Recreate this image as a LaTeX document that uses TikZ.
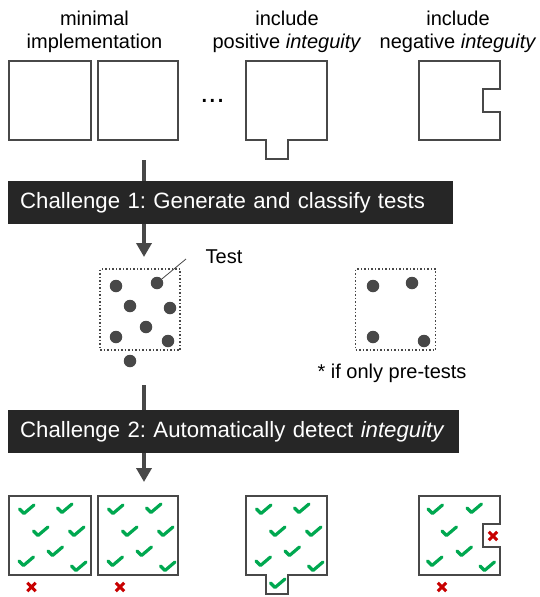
\documentclass[tikz,border=0pt]{standalone}
\usepackage{fontspec}
\setmainfont{Liberation Sans}
\usetikzlibrary{arrows.meta,positioning}
\definecolor{boxgray}{RGB}{72,72,72}
\definecolor{bardark}{RGB}{38,38,38}
\definecolor{passgreen}{RGB}{0,168,80}
\definecolor{failred}{RGB}{200,0,0}
\frenchspacing

\tikzset{
  impl/.style={draw=boxgray, line width=2.6pt, line join=miter},
  lbl/.style={font=\fontsize{20}{23.5}\selectfont, align=center, inner sep=0pt},
  challenge/.style={fill=bardark, text=white, anchor=west, font=\fontsize{22.2}{26}\selectfont,
    align=left, inner xsep=12pt, minimum height=43pt},
  testdot/.style={circle, fill=boxgray, minimum size=12.5pt, inner sep=0pt},
  pool/.style={draw=boxgray, dotted, line width=1.5pt, minimum width=80pt, minimum height=81pt},
  flow/.style={draw=boxgray, line width=4pt, -{Triangle[width=15pt,length=14pt]}},
  pass/.pic={\draw[passgreen, line width=3.2pt, line cap=round, line join=round] (-7,-1) -- (-2.5,3.5) -- (7.5,-5);},
  fail/.pic={\draw[failred, line width=3pt] (-4.2,-4.2) -- (4.2,4.2) (-4.2,4.2) -- (4.2,-4.2);},
}

\begin{document}
\begin{tikzpicture}[x=1pt, y=-1pt]
    \useasboundingbox (0,0) rectangle (540,597);

    % implementations, top row and bottom row
    \foreach \dy in {0,435} {
      \begin{scope}[shift={(0,\dy)}]
        \draw[impl] (9,61) rectangle (91,140);
        \draw[impl] (98,61) rectangle (178,140);
        \draw[impl] (246,61) -- (327,61) -- (327,140) -- (288,140) -- (288,159)
          -- (266,159) -- (266,140) -- (246,140) -- cycle;
        \draw[impl] (419,61) -- (500,61) -- (500,89) -- (483,89) -- (483,112)
          -- (500,112) -- (500,140) -- (419,140) -- cycle;
      \end{scope}
    }
    \node[lbl] (minlbl) at (94.5,32) {minimal\\implementation};
    \node[lbl] (poslbl) at (287,32) {include\\positive \textit{integuity}};
    \node[lbl] (neglbl) at (458,32) {include\\negative \textit{integuity}};
    \node[lbl, font=\fontsize{29}{29}\selectfont, anchor=base] (more) at (212.5,102.5) {...};

    % challenge 1
    \coordinate (from1) at (144,160);
    \coordinate (to1) at (144,257);
    \draw[flow] (from1) -- (to1);
    \node[challenge, text width=421pt] (ch1) at (8,202.5) {\mbox{Challenge 1: Generate and classify tests}};

    % generated tests
    \node[pool] (pool) at (140,309.5) {};
    \node[testdot] (t1) at (116,286) {};
    \node[testdot] (t2) at (157,283) {};
    \node[testdot] (t3) at (130,306) {};
    \node[testdot] (t4) at (170,308) {};
    \node[testdot] (t5) at (146,327) {};
    \node[testdot] (t6) at (116,337) {};
    \node[testdot] (t7) at (168,341) {};
    \node[testdot] (t8) at (130,361) {};
    \coordinate (lead) at (186,259);
    \draw[boxgray, line width=0.8pt] (t2) -- (lead);
    \node[lbl, anchor=base] (test) at (224,263) {Test};

    \node[pool] (prepool) at (395.5,309.5) {};
    \node[testdot] (p1) at (373,286) {};
    \node[testdot] (p2) at (412,283) {};
    \node[testdot] (p3) at (373,337) {};
    \node[testdot] (p4) at (424,341) {};
    \node[lbl, anchor=base] (prenote) at (392,378) {* if only pre-tests};

    % challenge 2
    \coordinate (from2) at (144,385);
    \coordinate (to2) at (144,482);
    \draw[flow] (from2) -- (to2);
    \node[challenge, text width=427pt] (ch2) at (8,431.5) {\mbox{Challenge 2: Automatically detect \textit{integuity}}};

    % detection results
    \foreach \dx in {0,89,237}
      \foreach \px/\py in {26.5/510,64.5/509,40.5/532,76.5/532,55/552,26/562,78.5/567}
        \pic at (\px+\dx,\py) {pass};
    \foreach \px/\py in {435/510,474/509,449/532,464/552,434.5/562,487/567}
      \pic at (\px,\py) {pass};
    \pic at (277.5,584) {pass};
    \pic at (31.5,587) {fail};
    \pic at (120,587) {fail};
    \pic at (442,587) {fail};
    \pic at (493,536) {fail};
\end{tikzpicture}
\end{document}
